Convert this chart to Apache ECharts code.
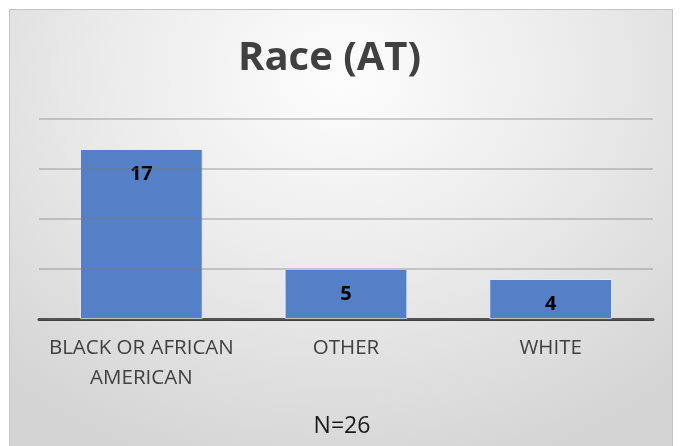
<!DOCTYPE html>
<html><head><meta charset="utf-8">
<script src="https://cdn.jsdelivr.net/npm/echarts@6/dist/echarts.min.js"></script>
<style>
html,body{margin:0;padding:0;background:#fff;width:681px;height:446px;overflow:hidden;}
#frame{position:absolute;left:9px;top:9px;width:664px;height:437px;box-sizing:border-box;border:1px solid #c4c4c4;border-bottom:none;
background:radial-gradient(ellipse 75% 95% at 50% 15%, #fdfdfd 0%, #ececec 45%, #d4d4d4 100%);}
#chart{position:absolute;left:0;top:0;width:664px;height:437px;}
</style></head>
<body>
<div id="frame"><div id="chart"></div></div>
<script>
const categories = ['BLACK OR AFRICAN\nAMERICAN', 'OTHER', 'WHITE'];
const counts = [17, 5, 4];
const titleText = 'Race (AT)';
const footnote = 'N=26';

const chart = echarts.init(document.getElementById('chart'));
chart.setOption({
  backgroundColor: 'transparent',
  animation: false,
  title: [{
    text: titleText, left: 223, top: 24,
    textStyle: {fontFamily: 'Open Sans', fontWeight: 'bold', fontSize: 40, color: '#404040'}
  }, {
    text: footnote, left: 'center', top: 400,
    textStyle: {fontFamily: 'Open Sans', fontWeight: 'normal', fontSize: 23, color: '#1a1a1a'}
  }],
  grid: {left: 29, right: 21, top: 109, bottom: 128, containLabel: false},
  xAxis: {
    type: 'category', data: categories,
    axisLine: {lineStyle: {color: '#404040', width: 3}},
    axisTick: {show: false},
    axisLabel: {interval: 0, fontFamily: 'Open Sans', fontSize: 20.5, color: '#404040', margin: 14, lineHeight: 30}
  },
  yAxis: {
    type: 'value', min: 0, max: 20, interval: 5, z: 3,
    axisLabel: {show: false}, axisLine: {show: false}, axisTick: {show: false},
    splitLine: {lineStyle: {color: 'rgba(120,120,120,0.45)', width: 1.5}}
  },
  series: [{
    type: 'bar', data: counts, barWidth: '60%',
    itemStyle: {color: '#5580c7', borderColor: 'rgba(235,240,250,0.9)', borderWidth: 1},
    label: {show: true, position: 'insideTop', distance: 15,
      fontFamily: 'Open Sans', fontWeight: 'bold', fontSize: 20, color: '#000'}
  }]
});
</script>
</body></html>
